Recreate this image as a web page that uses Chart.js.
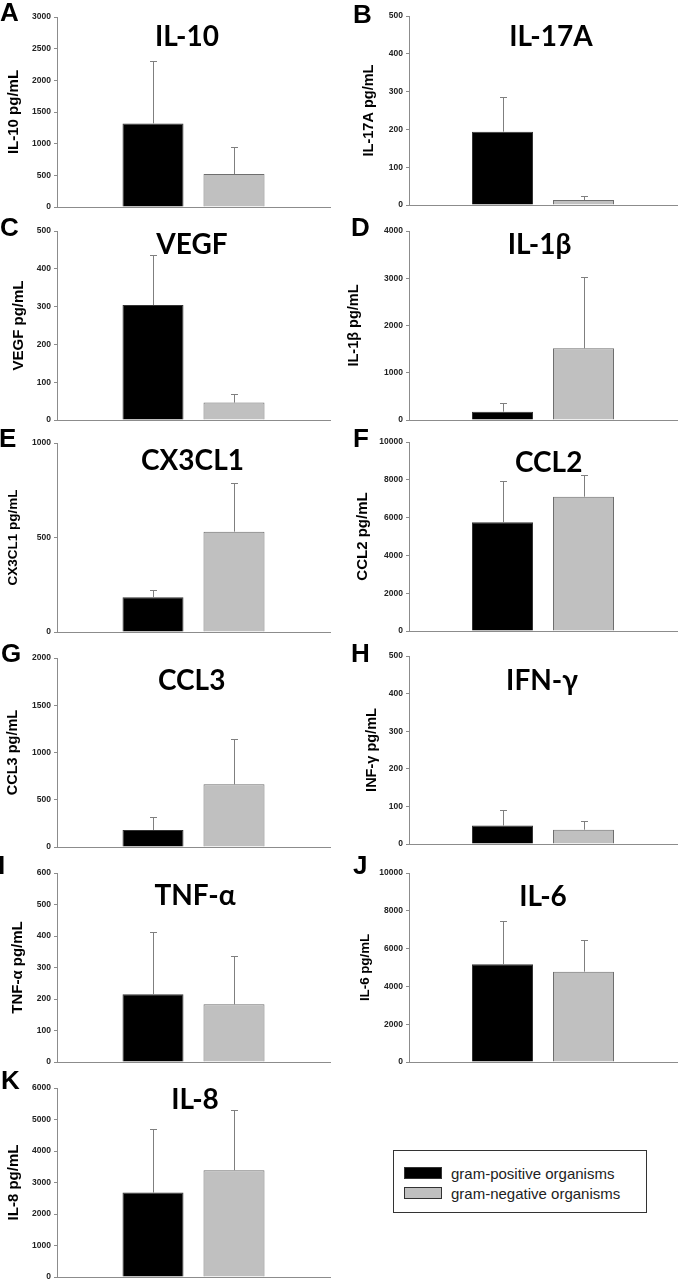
<!DOCTYPE html>
<html>
<head>
<meta charset="utf-8">
<script src="https://cdn.jsdelivr.net/npm/chart.js@4.4.1/dist/chart.umd.min.js"></script>
<style>
    body { margin: 0; width: 685px; height: 1281px; overflow: hidden; background: #fff; position: relative; }
    canvas { position: absolute; }
    .letter { position: absolute; font: bold 26px "Liberation Sans", Arial, sans-serif; line-height: 1; color: #000; }
    .title { position: absolute; font: bold 28px Lato, sans-serif; line-height: 1; white-space: nowrap; transform: translate(-50%, -50%); color: #000; }
    #legend { position: absolute; left: 393px; top: 1150px; width: 252px; height: 61px; border: 1px solid #333; }
    .legend-row { position: absolute; left: 10px; height: 16px; line-height: 16px; font: 15px "Liberation Sans", Arial, sans-serif; color: #222; white-space: nowrap; }
    .legend-sample { display: inline-block; width: 36px; height: 10px; border: 1px solid #333; vertical-align: top; margin: 2px 9px 0 0; }
</style>
</head>
<body>
<div id="legend"></div>
<script>
// data (mean and SD per cytokine)
var panelLetters = ['A', 'B', 'C', 'D', 'E', 'F', 'G', 'H', 'I', 'J', 'K'];
var analytes = ['IL-10', 'IL-17A', 'VEGF', 'IL-1β', 'CX3CL1', 'CCL2', 'CCL3', 'IFN-γ', 'TNF-α', 'IL-6', 'IL-8'];
var axisTitles = ['IL-10 pg/mL', 'IL-17A pg/mL', 'VEGF pg/mL', 'IL-1β pg/mL', 'CX3CL1 pg/mL', 'CCL2 pg/mL',
    'CCL3 pg/mL', 'INF-γ pg/mL', 'TNF-α pg/mL', 'IL-6 pg/mL', 'IL-8 pg/mL'];
var seriesNames = ['gram-positive organisms', 'gram-negative organisms'];
var gramPositive = [1320, 194, 304, 176, 184, 5750, 180, 49, 215, 5170, 2680];
var gramPositiveSD = [985, 92, 133, 177, 37, 2200, 137, 41, 197, 2290, 2020];
var gramNegative = [520, 13, 46, 1517, 531, 7105, 663, 38, 183, 4780, 3390];
var gramNegativeSD = [422, 11, 24, 1516, 256, 1133, 483, 24, 154, 1660, 1900];
var axisMax = [3000, 500, 500, 4000, 1000, 10000, 2000, 500, 600, 10000, 6000];
var axisStep = [500, 100, 100, 1000, 500, 2000, 500, 100, 100, 2000, 1000];

// where each panel sits on the page
var panelLayout = [
    { col: 0, top: 17, bottom: 207, titleX: 187, titleY: 35, capTop: 8, fs: 15, lx: 0, ly: -1 },
    { col: 1, top: 16, bottom: 205, titleX: 551, titleY: 35, capTop: 22, fs: 14.5, lx: 353, ly: 1 },
    { col: 0, top: 231, bottom: 420, titleX: 192, titleY: 242.5, capTop: 13, fs: 15, lx: 0, ly: 214 },
    { col: 1, top: 231, bottom: 420, titleX: 539.5, titleY: 242.5, capTop: 7, fs: 14.5, lx: 351, ly: 214 },
    { col: 0, top: 443, bottom: 632, titleX: 192.5, titleY: 459, capTop: 8, fs: 13.5, lx: -1, ly: 425 },
    { col: 1, top: 442, bottom: 631, titleX: 548.7, titleY: 461, capTop: 15, fs: 15, lx: 353, ly: 425 },
    { col: 0, top: 658, bottom: 847, titleX: 191.7, titleY: 679, capTop: 8, fs: 14.5, lx: 1, ly: 640 },
    { col: 1, top: 656, bottom: 844, titleX: 542, titleY: 679, capTop: 25, fs: 14.5, lx: 351, ly: 640 },
    { col: 0, top: 873, bottom: 1062, titleX: 195, titleY: 894, capTop: 12, fs: 15, lx: -2, ly: 852 },
    { col: 1, top: 873, bottom: 1062, titleX: 543, titleY: 895, capTop: 18, fs: 13.3, lx: 353, ly: 852 },
    { col: 0, top: 1088, bottom: 1277, titleX: 195, titleY: 1098, capTop: 8, fs: 15, lx: 1, ly: 1067 }
];

var axisColor = '#8c8c8c';
var tickFont = { family: '"Liberation Sans", Arial, sans-serif', size: 8.5, weight: 'bold' };
var barWidthPx = 61, barGapPx = 20;

// only the upper half of the SD bar is drawn, like in the figure
var errorBarsPlugin = {
    id: 'errorBars',
    afterDatasetsDraw: function (chart) {
        var ctx = chart.ctx;
        var yScale = chart.scales.y;
        ctx.save();
        ctx.strokeStyle = '#7f7f7f';
        ctx.lineWidth = 1;
        chart.data.datasets.forEach(function (ds, di) {
            chart.getDatasetMeta(di).data.forEach(function (bar, k) {
                var x = Math.round(bar.x) + 0.5;
                var yTop = Math.round(yScale.getPixelForValue(ds.data[k] + ds.errors[k])) + 0.5;
                ctx.beginPath();
                ctx.moveTo(x, bar.y);
                ctx.lineTo(x, yTop);
                ctx.moveTo(x - 3.5, yTop);
                ctx.lineTo(x + 3.5, yTop);
                ctx.stroke();
            });
        });
        ctx.restore();
    }
};

function buildPanel(i) {
    var L = panelLayout[i];
    var x0 = L.col === 0 ? 0 : 342;
    var plotLeft = L.col === 0 ? 57 : 409;
    var plotRight = L.col === 0 ? 330 : 677;
    var canvasW = L.col === 0 ? 342 : 343;
    var pad = 10;
    //one category holding both bars: slot = bar + gap
    var slot = barWidthPx + barGapPx;
    var catPct = (2 * slot) / (plotRight - plotLeft);
    var barPct = barWidthPx / slot;

    var canvas = document.createElement('canvas');
    canvas.width = canvasW;
    canvas.height = L.bottom - L.top + 2 * pad;
    canvas.style.left = x0 + 'px';
    canvas.style.top = (L.top - pad) + 'px';
    document.body.appendChild(canvas);

    var letter = document.createElement('div');
    letter.className = 'letter';
    letter.style.left = L.lx + 'px';
    letter.style.top = L.ly + 'px';
    letter.textContent = panelLetters[i];
    document.body.appendChild(letter);

    var title = document.createElement('div');
    title.className = 'title';
    title.style.left = L.titleX + 'px';
    title.style.top = L.titleY + 'px';
    title.textContent = analytes[i];
    document.body.appendChild(title);

    new Chart(canvas.getContext('2d'), {
        type: 'bar',
        data: {
            labels: [''],
            datasets: [
                {
                    label: seriesNames[0], data: [gramPositive[i]], errors: [gramPositiveSD[i]],
                    backgroundColor: '#000', borderColor: '#333', borderWidth: 1,
                    categoryPercentage: catPct, barPercentage: barPct
                },
                {
                    label: seriesNames[1], data: [gramNegative[i]], errors: [gramNegativeSD[i]],
                    backgroundColor: '#c0c0c0', borderColor: '#6e6e6e', borderWidth: 1,
                    categoryPercentage: catPct, barPercentage: barPct
                }
            ]
        },
        options: {
            responsive: false,
            animation: false,
            layout: { padding: { left: 0, right: canvasW - (plotRight - x0), top: pad, bottom: pad } },
            plugins: { legend: { display: false }, tooltip: { enabled: false } },
            scales: {
                x: {
                    grid: { display: false },
                    ticks: { display: false },
                    border: { color: axisColor },
                    afterFit: function (s) { s.height = 0; }
                },
                y: {
                    min: 0,
                    max: axisMax[i],
                    ticks: {
                        stepSize: axisStep[i], font: tickFont, color: '#222', padding: 3,
                        callback: function (v) { return String(v); } // no thousands separator
                    },
                    grid: { drawOnChartArea: false, tickLength: 3, color: axisColor },
                    border: { color: axisColor },
                    title: {
                        display: true,
                        text: axisTitles[i],
                        color: '#000',
                        font: { family: '"Liberation Sans", Arial, sans-serif', size: L.fs, weight: 'bold' },
                        padding: { top: L.capTop - 0.23 * L.fs, bottom: 0 }
                    },
                    afterFit: function (s) { s.width = plotLeft - x0; }
                }
            }
        },
        plugins: [errorBarsPlugin]
    });
}

for (var i = 0; i < analytes.length; i++) {
    buildPanel(i);
}

// legend box in the empty slot, built by hand like the figure
var legendColors = ['#000', '#c0c0c0'];
for (var s = 0; s < seriesNames.length; s++) {
    var row = document.createElement('div');
    row.className = 'legend-row';
    row.style.top = (14 + s * 20) + 'px';
    row.innerHTML = '<span class="legend-sample" style="background:' + legendColors[s] + '"></span>' + seriesNames[s];
    document.getElementById('legend').appendChild(row);
}
</script>
</body>
</html>
